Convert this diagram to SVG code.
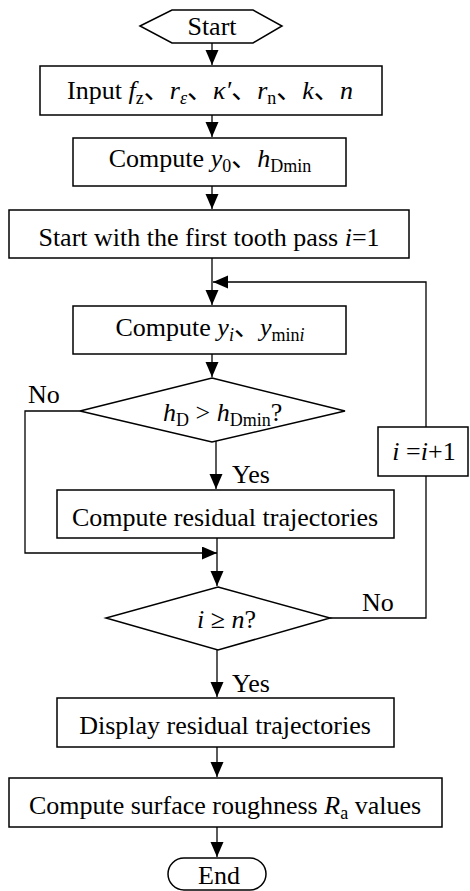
<svg xmlns="http://www.w3.org/2000/svg" width="470" height="891" viewBox="0 0 470 891">
<defs>
<style>
.box{fill:#fff;stroke:#000;stroke-width:1.5}
.ln{fill:none;stroke:#000;stroke-width:1.3}
text{font-family:"Liberation Serif","Noto Sans CJK SC",serif;font-size:26px;fill:#000}
.c{text-anchor:middle}
.it{font-style:italic}
.sub{font-size:18px}
</style>
<marker id="ah" markerUnits="userSpaceOnUse" markerWidth="16" markerHeight="14" refX="15" refY="6.5" orient="auto">
<path d="M0,0 L15,6.5 L0,13 z" fill="#000"/>
</marker>
</defs>
<rect width="470" height="891" fill="#fff"/>

<g id="connectors">
<path class="ln" d="M212,43 V65" marker-end="url(#ah)"/>
<path class="ln" d="M212,115 V137" marker-end="url(#ah)"/>
<path class="ln" d="M212,186 V209" marker-end="url(#ah)"/>
<path class="ln" d="M212,258 V305" marker-end="url(#ah)"/>
<path class="ln" d="M212,354 V377" marker-end="url(#ah)"/>
<path class="ln" d="M216,440 V489" marker-end="url(#ah)"/>
<path class="ln" d="M217,538 V586" marker-end="url(#ah)"/>
<path class="ln" d="M80,411 H25 V553 H217" marker-end="url(#ah)"/>
<path class="ln" d="M217,650 V697" marker-end="url(#ah)"/>
<path class="ln" d="M217,747 V777" marker-end="url(#ah)"/>
<path class="ln" d="M217,827 V857" marker-end="url(#ah)"/>
<path class="ln" d="M330,618 H426 V476"/>
<path class="ln" d="M426,427 V282 H213" marker-end="url(#ah)"/>
<text x="28" y="403">No</text>
<text x="232" y="483">Yes</text>
<text x="362" y="611">No</text>
<text x="232" y="692">Yes</text>
</g>

<g id="start">
<polygon class="box" points="140,26 172,10 253,10 282,26 253,43 172,43"/>
<text class="c" x="212" y="35">Start</text>
</g>

<g id="input">
<rect class="box" x="40" y="66" width="342" height="49"/>
<text class="c" x="210" y="99">Input <tspan class="it">f</tspan><tspan class="sub" dy="5">z</tspan><tspan dy="-5">、</tspan><tspan class="it">r</tspan><tspan class="sub it" dy="5">ε</tspan><tspan dy="-5">、</tspan><tspan class="it">κ′</tspan>、<tspan class="it">r</tspan><tspan class="sub" dy="5">n</tspan><tspan dy="-5">、</tspan><tspan class="it">k</tspan>、<tspan class="it">n</tspan></text>
</g>

<g id="compute-y0">
<rect class="box" x="73" y="138" width="273" height="48"/>
<text class="c" x="210" y="167">Compute <tspan class="it">y</tspan><tspan class="sub" dy="5">0</tspan><tspan dy="-5">、</tspan><tspan class="it">h</tspan><tspan class="sub" dy="5">Dmin</tspan></text>
</g>

<g id="first-pass">
<rect class="box" x="9" y="210" width="400" height="48"/>
<text class="c" x="209" y="246">Start with the first tooth pass <tspan class="it">i</tspan>=1</text>
</g>

<g id="compute-yi">
<rect class="box" x="73" y="306" width="273" height="48"/>
<text class="c" x="210" y="336">Compute <tspan class="it">y</tspan><tspan class="sub it" dy="5">i</tspan><tspan dy="-5">、</tspan><tspan class="it">y</tspan><tspan class="sub" dy="5">min</tspan><tspan class="sub it">i</tspan></text>
</g>

<g id="decision-hd">
<polygon class="box" points="212,378 345,411 212,442 80,411"/>
<text x="163" y="421"><tspan class="it">h</tspan><tspan class="sub" dy="5">D</tspan><tspan dy="-5"> &gt; </tspan><tspan class="it">h</tspan><tspan class="sub" dy="5">Dmin</tspan><tspan dy="-5">?</tspan></text>
</g>

<g id="increment">
<rect class="box" x="378" y="427" width="90" height="49"/>
<text class="c" x="424" y="460"><tspan class="it">i</tspan> =<tspan class="it">i</tspan>+1</text>
</g>

<g id="compute-residual">
<rect class="box" x="57" y="490" width="337" height="48"/>
<text class="c" x="225" y="526">Compute residual trajectories</text>
</g>

<g id="decision-n">
<polygon class="box" points="218,587 330,618 218,650 106,618"/>
<text x="197" y="628"><tspan class="it">i</tspan> ≥ <tspan class="it">n</tspan>?</text>
</g>

<g id="display">
<rect class="box" x="57" y="698" width="337" height="49"/>
<text class="c" x="225" y="734">Display residual trajectories</text>
</g>

<g id="roughness">
<rect class="box" x="9" y="778" width="433" height="49"/>
<text class="c" x="225" y="814">Compute surface roughness <tspan class="it">R</tspan><tspan class="sub" dy="5">a</tspan><tspan dy="-5"> values</tspan></text>
</g>

<g id="end">
<rect class="box" x="168" y="858" width="98" height="32" rx="16" ry="16"/>
<text class="c" x="219" y="884">End</text>
</g>
</svg>
